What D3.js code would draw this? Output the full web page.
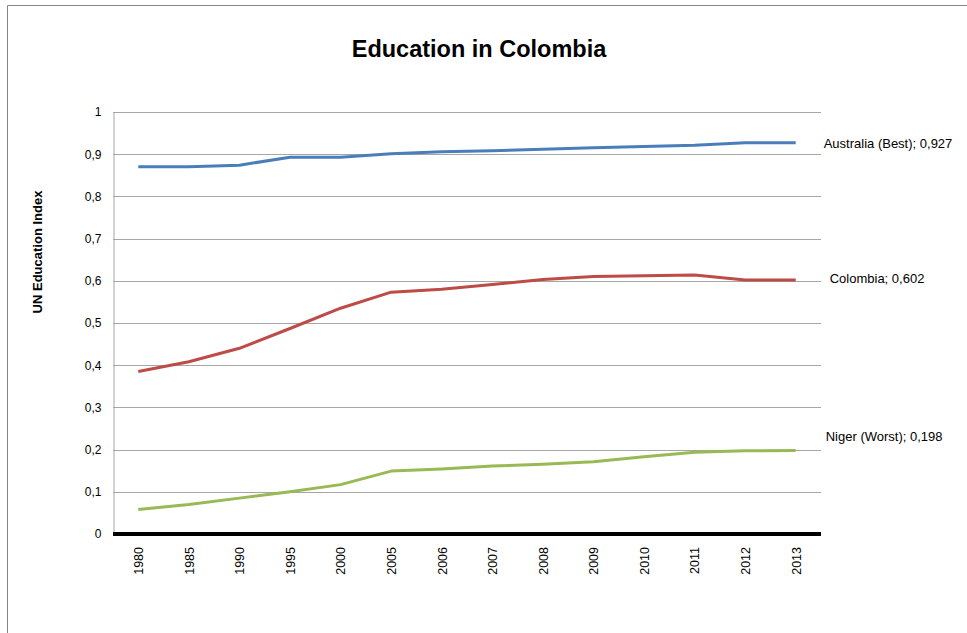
<!DOCTYPE html>
<html>
<head>
<meta charset="utf-8">
<script src="https://cdn.jsdelivr.net/npm/d3@7/dist/d3.min.js"></script>
<style>
  html, body { margin: 0; padding: 0; background: #fff; }
  svg { display: block; font-family: "Liberation Sans", Arial, sans-serif; }
</style>
</head>
<body>
<svg id="chart" width="967" height="633"></svg>
<script>
// Years on the category axis
const years = ["1980","1985","1990","1995","2000","2005","2006","2007","2008","2009","2010","2011","2012","2013"];

// UN Education Index per country
const australia = [0.870,0.870,0.874,0.893,0.893,0.901,0.906,0.908,0.912,0.915,0.918,0.921,0.927,0.927];
const colombia  = [0.385,0.408,0.440,0.487,0.535,0.573,0.580,0.591,0.603,0.610,0.612,0.614,0.602,0.602];
const niger     = [0.058,0.070,0.085,0.100,0.117,0.149,0.154,0.161,0.165,0.171,0.183,0.194,0.197,0.198];

const seriesNames = ["Australia (Best)", "Colombia", "Niger (Worst)"];
const seriesColors = ["#4a7ebb", "#be4b48", "#98b954"];
const yTicks = [0,0.1,0.2,0.3,0.4,0.5,0.6,0.7,0.8,0.9,1];

const series = [australia, colombia, niger].map((values, i) => ({
  name: seriesNames[i], color: seriesColors[i], values
}));

const svg = d3.select("#chart");
const margin = { left: 113, right: 146, top: 112, bottom: 99 };
const W = 967, H = 633;

// Outer frame
svg.append("path")
  .attr("d", `M7.5,${H} V5.5 H${W}`)
  .attr("fill", "none").attr("stroke", "#868686").attr("stroke-width", 1);

const x = d3.scalePoint().domain(years)
  .range([margin.left, W - margin.right]).padding(0.5);
const y = d3.scaleLinear().domain([0, 1]).range([H - margin.bottom, margin.top]);

const fmt = v => d3.format(".1~f")(v).replace(".", ",");

// Horizontal gridlines
svg.append("g").selectAll("line").data(yTicks.filter(t => t > 0)).join("line")
  .attr("x1", margin.left).attr("x2", W - margin.right)
  .attr("y1", d => Math.round(y(d)) + 0.5).attr("y2", d => Math.round(y(d)) + 0.5)
  .attr("stroke", "#a6a6a6").attr("stroke-width", 1);

// Y axis
const yAxis = svg.append("g")
  .attr("transform", `translate(${margin.left + 0.5},0)`)
  .call(d3.axisLeft(y).tickValues(yTicks).tickSize(0).tickPadding(12)
    .tickFormat(d => d === 0 || d === 1 ? String(d) : fmt(d)));
yAxis.select(".domain").attr("stroke", "#a6a6a6");
yAxis.selectAll("text").attr("font-size", 12).attr("fill", "#000")
  .attr("font-family", "'Liberation Sans', Arial, sans-serif");

// X axis
const xAxis = svg.append("g")
  .attr("transform", `translate(0,${y(0)})`)
  .call(d3.axisBottom(x).tickSize(0).tickPadding(0));
xAxis.select(".domain").remove();
xAxis.selectAll("text")
  .attr("font-size", 12.5).attr("fill", "#000")
  .attr("font-family", "'Liberation Sans', Arial, sans-serif")
  .attr("transform", "rotate(-90)")
  .attr("text-anchor", "end")
  .attr("x", -13).attr("y", 0).attr("dy", "0.35em");

// Thick zero baseline
svg.append("line")
  .attr("x1", margin.left).attr("x2", W - margin.right)
  .attr("y1", y(0)).attr("y2", y(0))
  .attr("stroke", "#000").attr("stroke-width", 4);

// Series lines
const line = d3.line().x((d, i) => x(years[i])).y(d => y(d));
svg.append("g").selectAll("path").data(series).join("path")
  .attr("d", d => line(d.values))
  .attr("fill", "none")
  .attr("stroke", d => d.color)
  .attr("stroke-width", 3)
  .attr("stroke-linejoin", "round");

// End labels
const labelOffsets = [{ dx: 28, dy: 1 }, { dx: 34, dy: -2 }, { dx: 30, dy: -14 }];
svg.append("g").selectAll("text").data(series).join("text")
  .attr("x", (d, i) => x(years[years.length - 1]) + labelOffsets[i].dx)
  .attr("y", (d, i) => y(d.values[d.values.length - 1]) + labelOffsets[i].dy)
  .attr("dy", "0.35em")
  .attr("font-size", 13).attr("fill", "#000")
  .text(d => `${d.name}; ${d3.format(".3f")(d.values[d.values.length - 1]).replace(".", ",")}`);

// Titles
svg.append("text")
  .attr("x", 479).attr("y", 57)
  .attr("text-anchor", "middle")
  .attr("font-size", 23.5).attr("font-weight", "bold").attr("fill", "#000")
  .text("Education in Colombia");

svg.append("text")
  .attr("transform", `translate(42,252) rotate(-90)`)
  .attr("text-anchor", "middle")
  .attr("font-size", 13).attr("font-weight", "bold").attr("fill", "#000")
  .text("UN Education Index");
</script>
</body>
</html>
